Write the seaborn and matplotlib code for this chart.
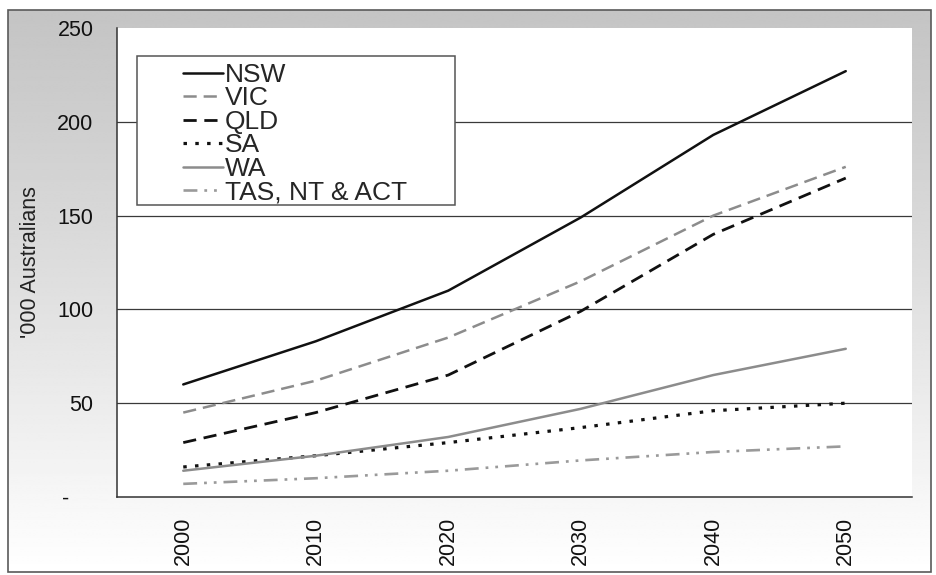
import numpy as np
import pandas as pd
import matplotlib
matplotlib.use("Agg")
import matplotlib.pyplot as plt
from matplotlib.patches import Rectangle
import seaborn as sns

# Projected numbers ('000) by state
years = ["2000", "2010", "2020", "2030", "2040", "2050"]
nsw = [60, 83, 110, 149, 193, 227]
vic = [45, 62, 85, 115, 150, 176]
qld = [29, 45, 65, 99, 140, 170]
sa = [16, 22, 29, 37, 46, 50]
wa = [14, 22, 32, 47, 65, 79]
tas_nt_act = [7, 10, 14, 19.5, 24, 27]

series_names = ["NSW", "VIC", "QLD", "SA", "WA", "TAS, NT & ACT"]
series_values = [nsw, vic, qld, sa, wa, tas_nt_act]

y_ticks = [0, 50, 100, 150, 200, 250]
y_tick_labels = ["-    ", "50", "100", "150", "200", "250"]

df = pd.DataFrame(
    [(name, yr, v) for name, vals in zip(series_names, series_values)
     for yr, v in zip(years, vals)],
    columns=["region", "year", "value"],
)

sns.set_style("white")
plt.rcParams["font.family"] = ["Liberation Sans", "DejaVu Sans"]
plt.rcParams["lines.scale_dashes"] = False

W, H = 936, 575
fig = plt.figure(figsize=(W / 100, H / 100), dpi=100)
fig.patch.set_facecolor("white")

# Chart-area background: grey fading to white towards the bottom
bg = fig.add_axes([0, 0, 1, 1], zorder=-10)
bg.set_xlim(0, W)
bg.set_ylim(H, 0)
bg.axis("off")
t = np.linspace(0, 1, 256)
grad = 0.77 + (1.0 - 0.77) * (t ** 1.1)
bg.imshow(np.repeat(grad[:, None], 2, axis=1), cmap="gray", vmin=0, vmax=1,
          extent=(8, 931, 572, 10), aspect="auto", interpolation="bilinear")
bg.add_patch(Rectangle((8, 10), 923, 562, fill=False, edgecolor="#5a5a5a", lw=1.2))

ax = fig.add_axes([117 / W, 1 - 497 / H, 795 / W, 469 / H])
ax.set_facecolor("white")

styles = {
    "NSW": dict(color="#111111", lw=1.8, ls="-"),
    "VIC": dict(color="#8c8c8c", lw=1.8, ls=(0, (9.5, 5))),
    "QLD": dict(color="#111111", lw=2.0, ls=(0, (9.5, 5.5))),
    "SA": dict(color="#111111", lw=2.3, ls=(0, (2.5, 6))),
    "WA": dict(color="#8c8c8c", lw=1.8, ls="-"),
    "TAS, NT & ACT": dict(color="#9a9a9a", lw=1.9, ls=(0, (10, 5, 2, 5, 2, 5))),
}

for name in series_names:
    st = styles[name]
    sns.lineplot(data=df[df["region"] == name], x="year", y="value", ax=ax,
                 color=st["color"], linewidth=st["lw"], linestyle=st["ls"],
                 label=name, zorder=3, sort=False)

ax.set_xlim(-0.5, len(years) - 0.5)
ax.set_ylim(0, 250)
ax.set_yticks(y_ticks)
ax.set_yticklabels(y_tick_labels)
ax.set_xticks(range(len(years)))
ax.set_xticklabels(years, rotation=90)
ax.set_xticks(np.arange(-0.5, len(years)), minor=True)

ax.tick_params(axis="y", which="major", direction="out", length=5, width=1,
               color="#333333", pad=12, labelsize=15.5, labelcolor="#111111")
ax.tick_params(axis="x", which="major", length=0, pad=14, labelsize=15.5,
               labelcolor="#111111")
ax.tick_params(axis="x", which="minor", direction="out", length=5, width=1,
               color="#333333")

ax.set_xlabel("")
ax.set_ylabel("'000 Australians", fontsize=15.5, color="#222222")
ax.yaxis.set_label_coords(-0.096, 0.5)

for side in ["top", "right"]:
    ax.spines[side].set_visible(False)
for side in ["left", "bottom"]:
    ax.spines[side].set_color("#333333")
    ax.spines[side].set_linewidth(1.1)

ax.grid(axis="y", color="#3a3a3a", linewidth=0.9)
ax.grid(axis="x", visible=False)
ax.set_axisbelow(True)
yt = ax.yaxis.get_major_ticks()
yt[0].gridline.set_visible(False)
yt[-1].gridline.set_visible(False)

# Legend box
box = Rectangle((20 / 795, 1 - 205 / 469 + 28 / 469), (455 - 137) / 795,
                (205 - 56) / 469, transform=ax.transAxes, facecolor="white",
                edgecolor="#555555", lw=1.1, zorder=4)
ax.add_patch(box)
leg = ax.legend(loc="upper left", bbox_to_anchor=((183 - 117) / 795, (497 - 63) / 469),
                frameon=False, fontsize=19, handlelength=1.5, handletextpad=0.1,
                labelspacing=-0.02, borderpad=0, borderaxespad=0)
leg.set_zorder(5)

fig.savefig("out.png", dpi=100, facecolor=fig.get_facecolor())
